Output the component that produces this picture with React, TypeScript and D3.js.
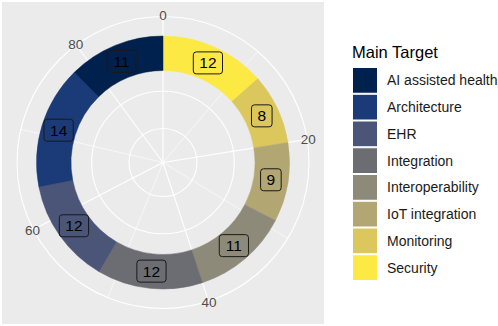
import React, { useEffect, useRef } from "react";
import * as d3 from "d3";

// legend order (top to bottom)
const categories = [
  "AI assisted health",
  "Architecture",
  "EHR",
  "Integration",
  "Interoperability",
  "IoT integration",
  "Monitoring",
  "Security",
];
const counts = [11, 14, 12, 12, 11, 9, 8, 12];
const palette = [
  "#00204d",
  "#1b3b78",
  "#4a5577",
  "#6c6d72",
  "#8e8a79",
  "#b2a672",
  "#dbc75c",
  "#fde944",
];
const thetaTicks = [0, 20, 40, 60, 80];
const thetaMinor = [10, 30, 50, 70];

const W = 498;
const H = 326;
const FONT = "'Liberation Sans', Arial, Helvetica, sans-serif";

export default function App() {
  const svgRef = useRef<SVGSVGElement | null>(null);

  useEffect(() => {
    const svg = d3.select(svgRef.current);
    svg.selectAll("*").remove();

    const cx = 163;
    const cy = 162.5;
    const rInner = 92;
    const rOuter = 126.5;
    const rMax = 146;
    const total = d3.sum(counts);

    const theta = d3.scaleLinear().domain([0, total]).range([0, 2 * Math.PI]);
    const color = d3.scaleOrdinal<string, string>().domain(categories).range(palette);

    // panel
    svg.append("rect")
      .attr("x", 2).attr("y", 2)
      .attr("width", 322).attr("height", 322)
      .attr("fill", "#ebebeb");

    const g = svg.append("g").attr("transform", `translate(${cx},${cy})`);

    // grid circles
    const rings = [34, 71.3, 108.6, rMax];
    g.selectAll(".ring")
      .data(rings)
      .enter().append("circle")
      .attr("r", (d) => d)
      .attr("fill", "none")
      .attr("stroke", "#ffffff")
      .attr("stroke-width", 1.1);

    const pt = (v: number, r: number) => [r * Math.sin(theta(v)), -r * Math.cos(theta(v))];

    g.selectAll(".minor")
      .data(thetaMinor)
      .enter().append("line")
      .attr("x1", 0).attr("y1", 0)
      .attr("x2", (d) => pt(d, rMax)[0])
      .attr("y2", (d) => pt(d, rMax)[1])
      .attr("stroke", "#ffffff")
      .attr("stroke-width", 0.6);

    g.selectAll(".major")
      .data(thetaTicks)
      .enter().append("line")
      .attr("x1", 0).attr("y1", 0)
      .attr("x2", (d) => pt(d, rMax)[0])
      .attr("y2", (d) => pt(d, rMax)[1])
      .attr("stroke", "#ffffff")
      .attr("stroke-width", 1.1);

    // donut, stacked clockwise from the top starting with the last category
    const rows = categories.map((c, i) => ({ cat: c, n: counts[i] })).reverse();
    const pie = d3.pie<{ cat: string; n: number }>()
      .sort(null)
      .value((d) => d.n);
    const arcs = pie(rows);
    const arc = d3.arc<d3.PieArcDatum<{ cat: string; n: number }>>()
      .innerRadius(rInner)
      .outerRadius(rOuter);

    g.selectAll(".slice")
      .data(arcs)
      .enter().append("path")
      .attr("d", arc)
      .attr("fill", (d) => color(d.data.cat))
      .attr("stroke", (d) => color(d.data.cat))
      .attr("stroke-width", 0.5);

    // value labels
    const rMid = (rInner + rOuter) / 2;
    const lab = g.selectAll(".lab")
      .data(arcs)
      .enter().append("g")
      .attr("transform", (d) => {
        const a = (d.startAngle + d.endAngle) / 2;
        return `translate(${rMid * Math.sin(a)},${-rMid * Math.cos(a)})`;
      });
    lab.append("rect")
      .attr("x", (d) => -(String(d.data.n).length * 8.6 + 12) / 2)
      .attr("y", -11)
      .attr("width", (d) => String(d.data.n).length * 8.6 + 12)
      .attr("height", 22)
      .attr("rx", 3)
      .attr("fill", (d) => color(d.data.cat))
      .attr("stroke", "#1a1a1a")
      .attr("stroke-width", 1);
    lab.append("text")
      .attr("text-anchor", "middle")
      .attr("dy", "0.36em")
      .style("font-family", FONT)
      .style("font-size", "15.5px")
      .attr("fill", "#000000")
      .text((d) => d.data.n);

    // theta axis labels
    g.selectAll(".tlab")
      .data(thetaTicks)
      .enter().append("text")
      .attr("x", (d) => pt(d, rMax + 1)[0])
      .attr("y", (d) => pt(d, rMax + 1)[1])
      .attr("text-anchor", "middle")
      .attr("dy", "0.36em")
      .style("font-family", FONT)
      .style("font-size", "13.5px")
      .attr("fill", "#4d4d4d")
      .text((d) => d);

    // legend
    const lg = svg.append("g").attr("transform", "translate(352,0)");
    lg.append("text")
      .attr("x", 0).attr("y", 58)
      .style("font-family", FONT)
      .style("font-size", "16.5px")
      .attr("fill", "#000000")
      .text("Main Target");

    const step = 26.75;
    const items = lg.selectAll(".key")
      .data(categories)
      .enter().append("g")
      .attr("transform", (d, i) => `translate(0,${67 + i * step})`);
    items.append("rect")
      .attr("x", 0.5).attr("y", 0.5)
      .attr("width", 25).attr("height", step - 1)
      .attr("fill", (d) => color(d))
      .attr("stroke", "#ffffff")
      .attr("stroke-width", 1);
    items.append("text")
      .attr("x", 35)
      .attr("y", step / 2)
      .attr("dy", "0.36em")
      .style("font-family", FONT)
      .style("font-size", "14px")
      .attr("fill", "#1a1a1a")
      .text((d) => d);
  }, []);

  return (
    <svg
      ref={svgRef}
      width={W}
      height={H}
      style={{ position: "absolute", left: 0, top: 0, background: "#ffffff" }}
    />
  );
}
